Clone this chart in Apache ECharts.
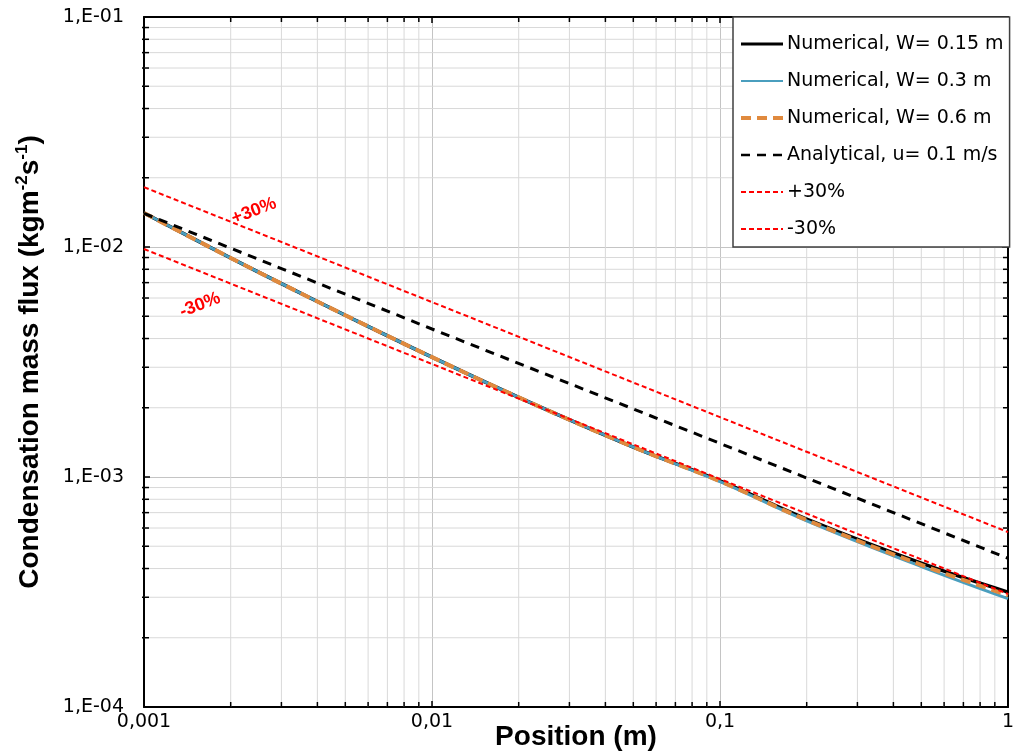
<!DOCTYPE html>
<html>
<head>
<meta charset="utf-8">
<script src="https://cdn.jsdelivr.net/npm/echarts@6/dist/echarts.min.js"></script>
<style>
html,body{margin:0;padding:0;background:#fff;}
#c{width:1013px;height:755px;}
</style>
</head>
<body>
<div id="c"></div>
<script>
// ---- data ----
const xNum = [0.001, 0.002, 0.003, 0.005, 0.01, 0.02, 0.05, 0.1, 0.2, 0.5, 1];
const numW015 = [1.406e-2, 8.96e-3, 6.93e-3, 5.05e-3, 3.32e-3, 2.22e-3, 1.35e-3, 9.62e-4, 6.56e-4, 4.22e-4, 3.16e-4];
const numW03  = [1.406e-2, 8.96e-3, 6.93e-3, 5.05e-3, 3.32e-3, 2.22e-3, 1.35e-3, 9.55e-4, 6.45e-4, 4.08e-4, 2.96e-4];
const numW06  = [1.406e-2, 8.96e-3, 6.93e-3, 5.05e-3, 3.32e-3, 2.22e-3, 1.35e-3, 9.58e-4, 6.50e-4, 4.15e-4, 3.06e-4];
const xAna = [0.001, 0.01, 0.1, 1];
const analytical = [1.40e-2, 4.40e-3, 1.40e-3, 4.43e-4];
const plus30 = [1.82e-2, 5.76e-3, 1.82e-3, 5.76e-4];
const minus30 = [9.8e-3, 3.10e-3, 9.8e-4, 3.10e-4];
const seriesNames = ['Numerical, W= 0.15 m', 'Numerical, W= 0.3 m', 'Numerical, W= 0.6 m', 'Analytical, u= 0.1 m/s', '+30%', '-30%'];
const xMinor = [0.002,0.003,0.004,0.005,0.006,0.007,0.008,0.009,0.02,0.03,0.04,0.05,0.06,0.07,0.08,0.09,0.2,0.3,0.4,0.5,0.6,0.7,0.8,0.9];
const yMinor = [2e-4,3e-4,4e-4,5e-4,6e-4,7e-4,8e-4,9e-4,2e-3,3e-3,4e-3,5e-3,6e-3,7e-3,8e-3,9e-3,2e-2,3e-2,4e-2,5e-2,6e-2,7e-2,8e-2,9e-2];
const xLabels = {'-3':'0,001','-2':'0,01','-1':'0,1','0':'1'};
const X_MIN = 0.001, X_MAX = 1, Y_MIN = 1e-4, Y_MAX = 1e-1;

const FONT = '"DejaVu Sans", sans-serif';
const TFONT = '"Liberation Sans", Arial, sans-serif';
const zip = (xs, ys) => xs.map((x, i) => [x, ys[i]]);

const colors = ['#000000', '#4A9EBE', '#E08A3E', '#000000', '#FF0000', '#FF0000'];
const widths = [3.5, 3, 4, 3, 2, 2];
const legendWidths = [3, 2, 4, 2.5, 2, 2];
const dashes = ['solid', 'solid', [10, 6], [9, 7], [5, 3], [5, 3]];

const chart = echarts.init(document.getElementById('c'));

function vGrid(params, api) {
  const x = api.value(0);
  const p0 = api.coord([x, Y_MIN]);
  const p1 = api.coord([x, Y_MAX]);
  return {type:'group', children:[
    {type:'line', shape:{x1:p0[0], y1:p0[1], x2:p1[0], y2:p1[1]}, style:{stroke:'#d9d9d9', lineWidth:1}},
    {type:'line', shape:{x1:p0[0], y1:p0[1], x2:p0[0], y2:p0[1]-5}, style:{stroke:'#000', lineWidth:1.5}},
    {type:'line', shape:{x1:p1[0], y1:p1[1], x2:p1[0], y2:p1[1]+5}, style:{stroke:'#000', lineWidth:1.5}}
  ]};
}
function hGrid(params, api) {
  const y = api.value(1);
  const p0 = api.coord([X_MIN, y]);
  const p1 = api.coord([X_MAX, y]);
  return {type:'group', children:[
    {type:'line', shape:{x1:p0[0], y1:p0[1], x2:p1[0], y2:p1[1]}, style:{stroke:'#d9d9d9', lineWidth:1}},
    {type:'line', shape:{x1:p0[0]-2, y1:p0[1], x2:p0[0]+5, y2:p0[1]}, style:{stroke:'#000', lineWidth:1.5}},
    {type:'line', shape:{x1:p1[0], y1:p1[1], x2:p1[0]-5, y2:p1[1]}, style:{stroke:'#000', lineWidth:1.5}}
  ]};
}

const axisCommon = {
  type:'log', logBase:10,
  axisLine:{show:true, onZero:false, lineStyle:{color:'#000', width:2}},
  axisTick:{show:true, inside:true, length:6, lineStyle:{color:'#000', width:1.5}},
  minorTick:{show:false}, minorSplitLine:{show:false}
};

const lineSeries = seriesNames.map((name, i) => {
  const isNum = i < 3;
  const ys = [numW015, numW03, numW06, analytical, plus30, minus30][i];
  return {
    type:'line', name:name, data:zip(isNum ? xNum : xAna, ys), symbol:'none',
    smooth: isNum ? 0.4 : false, z:3,
    lineStyle:{color:colors[i], width:widths[i], type:dashes[i]}, itemStyle:{color:colors[i]}
  };
});

const option = {
  backgroundColor:'#fff',
  animation:false,
  grid:{left:144, right:5, top:17, bottom:48, containLabel:false, outerBoundsMode:'none'},
  xAxis:[
    Object.assign({}, axisCommon, {
      min:X_MIN, max:X_MAX, position:'bottom',
      splitLine:{show:true, lineStyle:{color:'#c4c4c4', width:1}},
      axisLabel:{fontFamily:FONT, fontSize:19, color:'#000', margin:6,
        formatter:v => xLabels[String(Math.round(Math.log10(v)))] || ''},
      name:'Position (m)', nameLocation:'middle', nameGap:14, nameMoveOverlap:false,
      nameTextStyle:{fontFamily:TFONT, fontSize:28, fontWeight:'bold', color:'#000', verticalAlign:'top', lineHeight:32}
    }),
    Object.assign({}, axisCommon, {
      min:X_MIN, max:X_MAX, position:'top',
      splitLine:{show:false}, axisLabel:{show:false}
    })
  ],
  yAxis:[
    Object.assign({}, axisCommon, {
      min:Y_MIN, max:Y_MAX, position:'left',
      splitLine:{show:true, lineStyle:{color:'#c4c4c4', width:1}},
      axisLabel:{fontFamily:FONT, fontSize:19, color:'#000', margin:20, padding:[4,0,0,0],
        formatter:v => '1,E-0' + String(-Math.round(Math.log10(v)))},
      name:'{a|Condensation mass flux (kgm}{s|-2}{a|s}{s|-1}{a|)}',
      nameLocation:'middle', nameGap:98, nameMoveOverlap:false,
      nameTextStyle:{color:'#000', rich:{
        a:{fontFamily:TFONT, fontSize:28, fontWeight:'bold', color:'#000', lineHeight:32},
        s:{fontFamily:TFONT, fontSize:17, fontWeight:'bold', color:'#000', lineHeight:32, verticalAlign:'top', padding:[0,0,12,0]}
      }}
    }),
    Object.assign({}, axisCommon, {
      min:Y_MIN, max:Y_MAX, position:'right',
      splitLine:{show:false}, axisLabel:{show:false}
    })
  ],
  legend:{
    data:seriesNames.map((n, i) => ({name:n, lineStyle:{width:legendWidths[i], type:dashes[i], color:colors[i]}})),
    orient:'vertical', left:733, top:17,
    backgroundColor:'#fff', borderColor:'#404040', borderWidth:1.5, borderRadius:0,
    padding:[17, 6, 8, 6],
    itemWidth:42, itemHeight:14, itemGap:17,
    itemStyle:{opacity:0, borderWidth:0},
    textStyle:{fontFamily:FONT, fontSize:19, color:'#000', lineHeight:20, padding:[0,0,0,-1]},
    z:10
  },
  series:[
    {type:'custom', name:'_vgrid', renderItem:vGrid, data:xMinor.map(v=>[v, 1e-3]), silent:true, z:1, clip:false},
    {type:'custom', name:'_hgrid', renderItem:hGrid, data:yMinor.map(v=>[0.01, v]), silent:true, z:1, clip:false}
  ].concat(lineSeries),
  graphic:[
    {type:'text', x:254, y:211, rotation:0.37,
      style:{text:'+30%', fill:'#FF0000', font:'bold 18px "Liberation Sans", Arial, sans-serif', align:'center', verticalAlign:'middle'}, z:20},
    {type:'text', x:200, y:305, rotation:0.37,
      style:{text:'-30%', fill:'#FF0000', font:'bold 18px "Liberation Sans", Arial, sans-serif', align:'center', verticalAlign:'middle'}, z:20}
  ]
};
chart.setOption(option);
</script>
</body>
</html>
